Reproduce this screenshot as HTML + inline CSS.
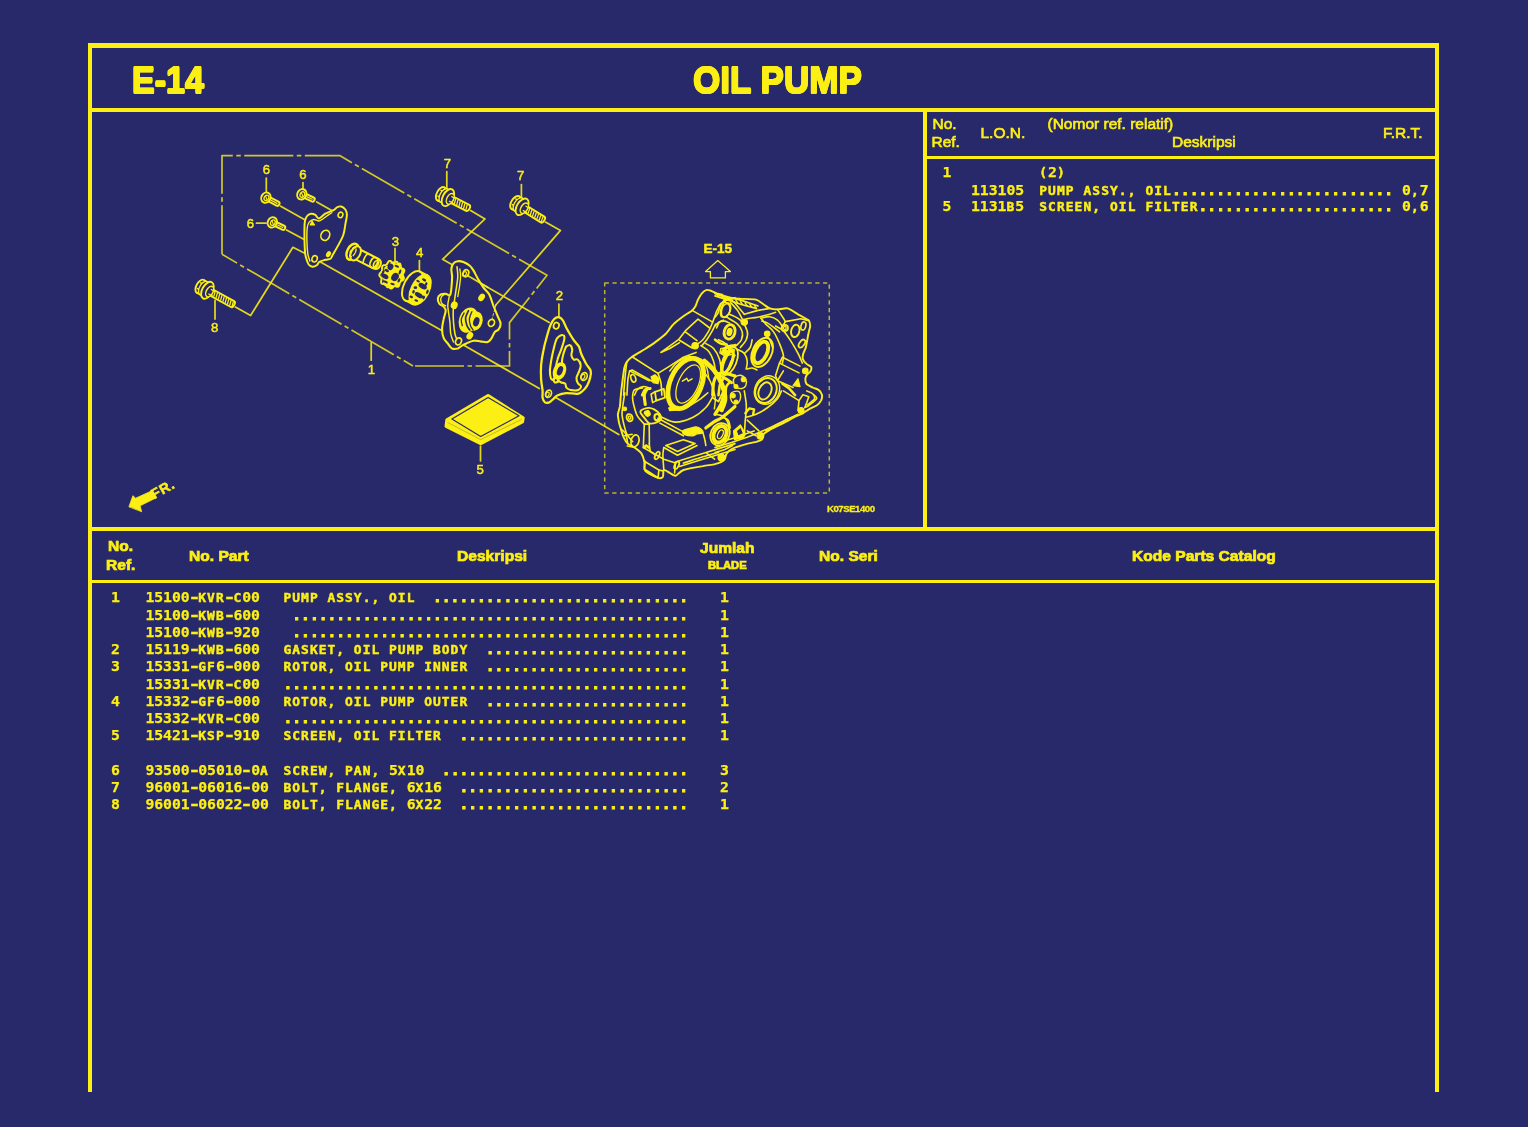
<!DOCTYPE html>
<html lang="id"><head><meta charset="utf-8"><title>E-14 OIL PUMP</title>
<style>
html,body{margin:0;padding:0;background:#28296a}
body{width:1528px;height:1127px;overflow:hidden;position:relative;background:#28296a;color:#fcef14;font-family:"Liberation Sans",sans-serif}
.ln{position:absolute;background:#fcef14}
.t{position:absolute;white-space:pre;line-height:1;}
.b{font-weight:bold}
.m{font-family:"DejaVu Sans Mono","Liberation Mono",monospace;font-weight:bold;font-size:15.6px;height:16px}
.m span{display:inline-block;vertical-align:baseline}
.d{-webkit-text-stroke:0.9px #fcef14}
.a{-webkit-text-stroke:0.45px #fcef14}
.g{-webkit-text-stroke:0.25px #fcef14}
.y{transform:scaleX(1.4)}
.h{-webkit-text-stroke:0.65px #fcef14}
.k{-webkit-text-stroke:0.7px #fcef14}
svg{position:absolute;left:0;top:0;filter:blur(0.45px)}
.t{filter:blur(0.35px)}
</style></head>
<body>
<div class="ln" style="left:87.5px;top:43px;width:4.5px;height:1049px"></div>
<div class="ln" style="left:1434.7px;top:43px;width:4.6px;height:1049px"></div>
<div class="ln" style="left:87.5px;top:43px;width:1351.8px;height:5px"></div>
<div class="ln" style="left:87.5px;top:108px;width:1351.8px;height:4px"></div>
<div class="ln" style="left:923.3px;top:108px;width:3.5px;height:423px"></div>
<div class="ln" style="left:925px;top:155.7px;width:512px;height:3.3px"></div>
<div class="ln" style="left:87.5px;top:527.2px;width:1351.8px;height:3.8px"></div>
<div class="ln" style="left:87.5px;top:579.7px;width:1351.8px;height:3.6px"></div>
<div class="t b" style="left:131.6px;top:62.6px;font-size:36px;text-shadow:0.75px 0px 0 #fcef14,-0.75px 0px 0 #fcef14,0px 0.75px 0 #fcef14,0px -0.75px 0 #fcef14,0.55px 0.55px 0 #fcef14,-0.55px 0.55px 0 #fcef14,0.55px -0.55px 0 #fcef14,-0.55px -0.55px 0 #fcef14;transform:scaleX(.945);transform-origin:0 0;">E-14</div>
<div class="t b" style="left:693.2px;top:62.6px;font-size:36px;text-shadow:0.75px 0px 0 #fcef14,-0.75px 0px 0 #fcef14,0px 0.75px 0 #fcef14,0px -0.75px 0 #fcef14,0.55px 0.55px 0 #fcef14,-0.55px 0.55px 0 #fcef14,0.55px -0.55px 0 #fcef14,-0.55px -0.55px 0 #fcef14;transform:scaleX(.974);transform-origin:0 0;">OIL PUMP</div>
<div class="t h" style="left:932.5px;top:115.8px;font-size:15.5px;">No.</div>
<div class="t h" style="left:931.5px;top:133.8px;font-size:15.5px;">Ref.</div>
<div class="t h" style="left:980.5px;top:124.8px;font-size:15.5px;">L.O.N.</div>
<div class="t h" style="left:1047.5px;top:115.8px;font-size:15.5px;">(Nomor ref. relatif)</div>
<div class="t h" style="left:1172px;top:133.8px;font-size:15.5px;">Deskripsi</div>
<div class="t h" style="left:1383px;top:124.8px;font-size:15.5px;">F.R.T.</div>
<div class="t b k" style="left:107.8px;top:539.4px;font-size:14.3px;transform:scaleX(1.09);transform-origin:0 0;">No.</div>
<div class="t b k" style="left:105.6px;top:558.2px;font-size:14.3px;transform:scaleX(1.09);transform-origin:0 0;">Ref.</div>
<div class="t b k" style="left:188.6px;top:549.2px;font-size:14.3px;transform:scaleX(1.09);transform-origin:0 0;">No. Part</div>
<div class="t b k" style="left:457.4px;top:549.2px;font-size:14.3px;transform:scaleX(1.09);transform-origin:0 0;">Deskripsi</div>
<div class="t b k" style="left:700px;top:540.6px;font-size:14.3px;transform:scaleX(1.09);transform-origin:0 0;">Jumlah</div>
<div class="t b k" style="left:707.6px;top:559.7px;font-size:10.6px;transform:scaleX(1.06);transform-origin:0 0;">BLADE</div>
<div class="t b k" style="left:819.4px;top:549.2px;font-size:14.3px;transform:scaleX(1.09);transform-origin:0 0;">No. Seri</div>
<div class="t b k" style="left:1132.4px;top:549.2px;font-size:14.3px;transform:scaleX(1.09);transform-origin:0 0;">Kode Parts Catalog</div>
<div class="t m" style="left:942.6px;top:165px"><span class="g" style="font-size:14.8px;letter-spacing:-0.055px">1</span></div>
<div class="t m" style="left:1039.2px;top:165px"><span class="a" style="font-size:12.9px;letter-spacing:1.089px">(</span><span class="g" style="font-size:14.8px;letter-spacing:-0.055px">2</span><span class="a" style="font-size:12.9px;letter-spacing:1.089px">)</span></div>
<div class="t m" style="left:971px;top:182.7px"><span class="g" style="font-size:14.8px;letter-spacing:-0.055px">113105</span></div>
<div class="t m" style="left:1039.2px;top:182.7px"><span class="a" style="font-size:12.9px;letter-spacing:1.089px">PUMP ASSY., OIL</span><span class="d" style="font-size:14.6px;letter-spacing:0.065px">.........................</span><span class="a" style="font-size:12.9px;letter-spacing:1.089px"> </span><span class="g" style="font-size:14.8px;letter-spacing:-0.055px">0</span><span class="a" style="font-size:12.9px;letter-spacing:1.089px">,</span><span class="g" style="font-size:14.8px;letter-spacing:-0.055px">7</span></div>
<div class="t m" style="left:942.6px;top:198.9px"><span class="g" style="font-size:14.8px;letter-spacing:-0.055px">5</span></div>
<div class="t m" style="left:971px;top:198.9px"><span class="g" style="font-size:14.8px;letter-spacing:-0.055px">1131</span><span class="a" style="font-size:12.9px;letter-spacing:1.089px">B</span><span class="g" style="font-size:14.8px;letter-spacing:-0.055px">5</span></div>
<div class="t m" style="left:1039.2px;top:198.9px"><span class="a" style="font-size:12.9px;letter-spacing:1.089px">SCREEN, OIL FILTER</span><span class="d" style="font-size:14.6px;letter-spacing:0.065px">......................</span><span class="a" style="font-size:12.9px;letter-spacing:1.089px"> </span><span class="g" style="font-size:14.8px;letter-spacing:-0.055px">0</span><span class="a" style="font-size:12.9px;letter-spacing:1.089px">,</span><span class="g" style="font-size:14.8px;letter-spacing:-0.055px">6</span></div>
<div class="t m" style="left:111px;top:590.3px"><span class="g" style="font-size:14.8px;letter-spacing:-0.11px">1</span></div>
<div class="t m" style="left:145.5px;top:590.3px"><span class="g" style="font-size:14.8px;letter-spacing:-0.11px">15100</span><span class="g y" style="font-size:14.8px;letter-spacing:-0.11px">-</span><span class="a" style="font-size:12.9px;letter-spacing:1.034px">KVR</span><span class="g y" style="font-size:14.8px;letter-spacing:-0.11px">-</span><span class="a" style="font-size:12.9px;letter-spacing:1.034px">C</span><span class="g" style="font-size:14.8px;letter-spacing:-0.11px">00</span></div>
<div class="t m" style="left:283.5px;top:590.3px"><span class="a" style="font-size:12.9px;letter-spacing:1.034px">PUMP ASSY., OIL  </span><span class="d" style="font-size:14.6px;letter-spacing:0.01px">.............................</span></div>
<div class="t m" style="left:720px;top:590.3px"><span class="g" style="font-size:14.8px;letter-spacing:-0.11px">1</span></div>
<div class="t m" style="left:145.5px;top:607.55px"><span class="g" style="font-size:14.8px;letter-spacing:-0.11px">15100</span><span class="g y" style="font-size:14.8px;letter-spacing:-0.11px">-</span><span class="a" style="font-size:12.9px;letter-spacing:1.034px">KWB</span><span class="g y" style="font-size:14.8px;letter-spacing:-0.11px">-</span><span class="g" style="font-size:14.8px;letter-spacing:-0.11px">600</span></div>
<div class="t m" style="left:283.5px;top:607.55px"><span class="a" style="font-size:12.9px;letter-spacing:1.034px"> </span><span class="d" style="font-size:14.6px;letter-spacing:0.01px">.............................................</span></div>
<div class="t m" style="left:720px;top:607.55px"><span class="g" style="font-size:14.8px;letter-spacing:-0.11px">1</span></div>
<div class="t m" style="left:145.5px;top:624.8px"><span class="g" style="font-size:14.8px;letter-spacing:-0.11px">15100</span><span class="g y" style="font-size:14.8px;letter-spacing:-0.11px">-</span><span class="a" style="font-size:12.9px;letter-spacing:1.034px">KWB</span><span class="g y" style="font-size:14.8px;letter-spacing:-0.11px">-</span><span class="g" style="font-size:14.8px;letter-spacing:-0.11px">920</span></div>
<div class="t m" style="left:283.5px;top:624.8px"><span class="a" style="font-size:12.9px;letter-spacing:1.034px"> </span><span class="d" style="font-size:14.6px;letter-spacing:0.01px">.............................................</span></div>
<div class="t m" style="left:720px;top:624.8px"><span class="g" style="font-size:14.8px;letter-spacing:-0.11px">1</span></div>
<div class="t m" style="left:111px;top:642.05px"><span class="g" style="font-size:14.8px;letter-spacing:-0.11px">2</span></div>
<div class="t m" style="left:145.5px;top:642.05px"><span class="g" style="font-size:14.8px;letter-spacing:-0.11px">15119</span><span class="g y" style="font-size:14.8px;letter-spacing:-0.11px">-</span><span class="a" style="font-size:12.9px;letter-spacing:1.034px">KWB</span><span class="g y" style="font-size:14.8px;letter-spacing:-0.11px">-</span><span class="g" style="font-size:14.8px;letter-spacing:-0.11px">600</span></div>
<div class="t m" style="left:283.5px;top:642.05px"><span class="a" style="font-size:12.9px;letter-spacing:1.034px">GASKET, OIL PUMP BODY  </span><span class="d" style="font-size:14.6px;letter-spacing:0.01px">.......................</span></div>
<div class="t m" style="left:720px;top:642.05px"><span class="g" style="font-size:14.8px;letter-spacing:-0.11px">1</span></div>
<div class="t m" style="left:111px;top:659.3px"><span class="g" style="font-size:14.8px;letter-spacing:-0.11px">3</span></div>
<div class="t m" style="left:145.5px;top:659.3px"><span class="g" style="font-size:14.8px;letter-spacing:-0.11px">15331</span><span class="g y" style="font-size:14.8px;letter-spacing:-0.11px">-</span><span class="a" style="font-size:12.9px;letter-spacing:1.034px">GF</span><span class="g" style="font-size:14.8px;letter-spacing:-0.11px">6</span><span class="g y" style="font-size:14.8px;letter-spacing:-0.11px">-</span><span class="g" style="font-size:14.8px;letter-spacing:-0.11px">000</span></div>
<div class="t m" style="left:283.5px;top:659.3px"><span class="a" style="font-size:12.9px;letter-spacing:1.034px">ROTOR, OIL PUMP INNER  </span><span class="d" style="font-size:14.6px;letter-spacing:0.01px">.......................</span></div>
<div class="t m" style="left:720px;top:659.3px"><span class="g" style="font-size:14.8px;letter-spacing:-0.11px">1</span></div>
<div class="t m" style="left:145.5px;top:676.55px"><span class="g" style="font-size:14.8px;letter-spacing:-0.11px">15331</span><span class="g y" style="font-size:14.8px;letter-spacing:-0.11px">-</span><span class="a" style="font-size:12.9px;letter-spacing:1.034px">KVR</span><span class="g y" style="font-size:14.8px;letter-spacing:-0.11px">-</span><span class="a" style="font-size:12.9px;letter-spacing:1.034px">C</span><span class="g" style="font-size:14.8px;letter-spacing:-0.11px">00</span></div>
<div class="t m" style="left:283.5px;top:676.55px"><span class="d" style="font-size:14.6px;letter-spacing:0.01px">..............................................</span></div>
<div class="t m" style="left:720px;top:676.55px"><span class="g" style="font-size:14.8px;letter-spacing:-0.11px">1</span></div>
<div class="t m" style="left:111px;top:693.8px"><span class="g" style="font-size:14.8px;letter-spacing:-0.11px">4</span></div>
<div class="t m" style="left:145.5px;top:693.8px"><span class="g" style="font-size:14.8px;letter-spacing:-0.11px">15332</span><span class="g y" style="font-size:14.8px;letter-spacing:-0.11px">-</span><span class="a" style="font-size:12.9px;letter-spacing:1.034px">GF</span><span class="g" style="font-size:14.8px;letter-spacing:-0.11px">6</span><span class="g y" style="font-size:14.8px;letter-spacing:-0.11px">-</span><span class="g" style="font-size:14.8px;letter-spacing:-0.11px">000</span></div>
<div class="t m" style="left:283.5px;top:693.8px"><span class="a" style="font-size:12.9px;letter-spacing:1.034px">ROTOR, OIL PUMP OUTER  </span><span class="d" style="font-size:14.6px;letter-spacing:0.01px">.......................</span></div>
<div class="t m" style="left:720px;top:693.8px"><span class="g" style="font-size:14.8px;letter-spacing:-0.11px">1</span></div>
<div class="t m" style="left:145.5px;top:711.05px"><span class="g" style="font-size:14.8px;letter-spacing:-0.11px">15332</span><span class="g y" style="font-size:14.8px;letter-spacing:-0.11px">-</span><span class="a" style="font-size:12.9px;letter-spacing:1.034px">KVR</span><span class="g y" style="font-size:14.8px;letter-spacing:-0.11px">-</span><span class="a" style="font-size:12.9px;letter-spacing:1.034px">C</span><span class="g" style="font-size:14.8px;letter-spacing:-0.11px">00</span></div>
<div class="t m" style="left:283.5px;top:711.05px"><span class="d" style="font-size:14.6px;letter-spacing:0.01px">..............................................</span></div>
<div class="t m" style="left:720px;top:711.05px"><span class="g" style="font-size:14.8px;letter-spacing:-0.11px">1</span></div>
<div class="t m" style="left:111px;top:728.3px"><span class="g" style="font-size:14.8px;letter-spacing:-0.11px">5</span></div>
<div class="t m" style="left:145.5px;top:728.3px"><span class="g" style="font-size:14.8px;letter-spacing:-0.11px">15421</span><span class="g y" style="font-size:14.8px;letter-spacing:-0.11px">-</span><span class="a" style="font-size:12.9px;letter-spacing:1.034px">KSP</span><span class="g y" style="font-size:14.8px;letter-spacing:-0.11px">-</span><span class="g" style="font-size:14.8px;letter-spacing:-0.11px">910</span></div>
<div class="t m" style="left:283.5px;top:728.3px"><span class="a" style="font-size:12.9px;letter-spacing:1.034px">SCREEN, OIL FILTER  </span><span class="d" style="font-size:14.6px;letter-spacing:0.01px">..........................</span></div>
<div class="t m" style="left:720px;top:728.3px"><span class="g" style="font-size:14.8px;letter-spacing:-0.11px">1</span></div>
<div class="t m" style="left:111px;top:762.8px"><span class="g" style="font-size:14.8px;letter-spacing:-0.11px">6</span></div>
<div class="t m" style="left:145.5px;top:762.8px"><span class="g" style="font-size:14.8px;letter-spacing:-0.11px">93500</span><span class="g y" style="font-size:14.8px;letter-spacing:-0.11px">-</span><span class="g" style="font-size:14.8px;letter-spacing:-0.11px">05010</span><span class="g y" style="font-size:14.8px;letter-spacing:-0.11px">-</span><span class="g" style="font-size:14.8px;letter-spacing:-0.11px">0</span><span class="a" style="font-size:12.9px;letter-spacing:1.034px">A</span></div>
<div class="t m" style="left:283.5px;top:762.8px"><span class="a" style="font-size:12.9px;letter-spacing:1.034px">SCREW, PAN, </span><span class="g" style="font-size:14.8px;letter-spacing:-0.11px">5</span><span class="a" style="font-size:12.9px;letter-spacing:1.034px">X</span><span class="g" style="font-size:14.8px;letter-spacing:-0.11px">10</span><span class="a" style="font-size:12.9px;letter-spacing:1.034px">  </span><span class="d" style="font-size:14.6px;letter-spacing:0.01px">............................</span></div>
<div class="t m" style="left:720px;top:762.8px"><span class="g" style="font-size:14.8px;letter-spacing:-0.11px">3</span></div>
<div class="t m" style="left:111px;top:780.05px"><span class="g" style="font-size:14.8px;letter-spacing:-0.11px">7</span></div>
<div class="t m" style="left:145.5px;top:780.05px"><span class="g" style="font-size:14.8px;letter-spacing:-0.11px">96001</span><span class="g y" style="font-size:14.8px;letter-spacing:-0.11px">-</span><span class="g" style="font-size:14.8px;letter-spacing:-0.11px">06016</span><span class="g y" style="font-size:14.8px;letter-spacing:-0.11px">-</span><span class="g" style="font-size:14.8px;letter-spacing:-0.11px">00</span></div>
<div class="t m" style="left:283.5px;top:780.05px"><span class="a" style="font-size:12.9px;letter-spacing:1.034px">BOLT, FLANGE, </span><span class="g" style="font-size:14.8px;letter-spacing:-0.11px">6</span><span class="a" style="font-size:12.9px;letter-spacing:1.034px">X</span><span class="g" style="font-size:14.8px;letter-spacing:-0.11px">16</span><span class="a" style="font-size:12.9px;letter-spacing:1.034px">  </span><span class="d" style="font-size:14.6px;letter-spacing:0.01px">..........................</span></div>
<div class="t m" style="left:720px;top:780.05px"><span class="g" style="font-size:14.8px;letter-spacing:-0.11px">2</span></div>
<div class="t m" style="left:111px;top:797.3px"><span class="g" style="font-size:14.8px;letter-spacing:-0.11px">8</span></div>
<div class="t m" style="left:145.5px;top:797.3px"><span class="g" style="font-size:14.8px;letter-spacing:-0.11px">96001</span><span class="g y" style="font-size:14.8px;letter-spacing:-0.11px">-</span><span class="g" style="font-size:14.8px;letter-spacing:-0.11px">06022</span><span class="g y" style="font-size:14.8px;letter-spacing:-0.11px">-</span><span class="g" style="font-size:14.8px;letter-spacing:-0.11px">00</span></div>
<div class="t m" style="left:283.5px;top:797.3px"><span class="a" style="font-size:12.9px;letter-spacing:1.034px">BOLT, FLANGE, </span><span class="g" style="font-size:14.8px;letter-spacing:-0.11px">6</span><span class="a" style="font-size:12.9px;letter-spacing:1.034px">X</span><span class="g" style="font-size:14.8px;letter-spacing:-0.11px">22</span><span class="a" style="font-size:12.9px;letter-spacing:1.034px">  </span><span class="d" style="font-size:14.6px;letter-spacing:0.01px">..........................</span></div>
<div class="t m" style="left:720px;top:797.3px"><span class="g" style="font-size:14.8px;letter-spacing:-0.11px">1</span></div>
<svg width="1528" height="1127" viewBox="0 0 1528 1127" fill="none" stroke="#fcef14" stroke-width="1.3" stroke-linecap="round" stroke-linejoin="round" font-family="Liberation Sans, sans-serif" font-weight="bold">
<g stroke-width="1.7" stroke-linecap="butt" opacity="0.8">
<path d="M222,254.3 V155.6 H339.7 L547,275.3 L509.5,322.6 V366 H413" stroke-dasharray="49 3.5 4.5 3.5"/>
<path d="M222,254.3 L413,366" stroke-dasharray="49 3.5 4.5 3.5" stroke-dashoffset="31.5"/>
</g>
<g stroke-width="1.75" opacity="0.88">
<path d="M266.3,178.2 L266.3,191.8"/>
<path d="M303,182.5 L303,188"/>
<path d="M256.5,223.2 L266,223.2"/>
<path d="M446.8,171.7 L446.8,187.5"/>
<path d="M521.4,184.6 L521.4,199"/>
<path d="M395,248.4 L395,261.2"/>
<path d="M419.4,260.5 L419.4,271.8"/>
<path d="M215,300.4 L215,319.1"/>
<path d="M371.2,342.9 L371.2,360.2"/>
<path d="M558.9,304.1 L558.9,316.9"/>
<path d="M480.5,446 L480.5,460.9"/>
<path d="M280.7,206.2 L305.2,219.9"/>
<path d="M316.7,201.9 L331.8,210.6"/>
<path d="M286.5,230 L305.2,240.1"/>
<path d="M235.4,306.9 L250.6,315.5 L292.9,247.3 L305.2,253.5"/>
<path d="M470.6,210.6 L485,218.9 L442.6,259.3 L453.5,265.4"/>
<path d="M545.4,222.1 L560.5,230.4 L496,304.8"/>
<path d="M496,304.8 L491.5,318" stroke-dasharray="2.5 2" stroke-width="0.9"/>
<path d="M319.6,261.5 L442.1,330.7 M463.4,344.9 L539.3,388.6 M554.9,397.1 L618.8,434.6"/>
<path d="M467,275.4 L549.2,322.6"/>
</g>
<rect x="604.7" y="283" width="224.6" height="210" stroke-width="1.5" stroke-dasharray="4.2 3.6" stroke-linecap="butt" opacity="0.7"/>
<path d="M717.8,260.6 L730.4,271.6 H725.4 V277.9 H710.4 V271.6 H705.6 Z" stroke-width="1.3"/>
<text x="266.3" y="174.2" font-size="13.2" font-weight="normal" text-anchor="middle" fill="#fcef14" stroke="#fcef14" stroke-width="0.45">6</text>
<text x="303" y="179" font-size="13.2" font-weight="normal" text-anchor="middle" fill="#fcef14" stroke="#fcef14" stroke-width="0.45">6</text>
<text x="250.5" y="227.9" font-size="13.2" font-weight="normal" text-anchor="middle" fill="#fcef14" stroke="#fcef14" stroke-width="0.45">6</text>
<text x="447.3" y="167.8" font-size="13.2" font-weight="normal" text-anchor="middle" fill="#fcef14" stroke="#fcef14" stroke-width="0.45">7</text>
<text x="520.7" y="180" font-size="13.2" font-weight="normal" text-anchor="middle" fill="#fcef14" stroke="#fcef14" stroke-width="0.45">7</text>
<text x="395.3" y="246" font-size="13.2" font-weight="normal" text-anchor="middle" fill="#fcef14" stroke="#fcef14" stroke-width="0.45">3</text>
<text x="419.7" y="256.6" font-size="13.2" font-weight="normal" text-anchor="middle" fill="#fcef14" stroke="#fcef14" stroke-width="0.45">4</text>
<text x="214.6" y="331.7" font-size="13.2" font-weight="normal" text-anchor="middle" fill="#fcef14" stroke="#fcef14" stroke-width="0.45">8</text>
<text x="371.5" y="373.5" font-size="13.2" font-weight="normal" text-anchor="middle" fill="#fcef14" stroke="#fcef14" stroke-width="0.45">1</text>
<text x="559.5" y="300.3" font-size="13.2" font-weight="normal" text-anchor="middle" fill="#fcef14" stroke="#fcef14" stroke-width="0.45">2</text>
<text x="480.1" y="474.1" font-size="13.2" font-weight="normal" text-anchor="middle" fill="#fcef14" stroke="#fcef14" stroke-width="0.45">5</text>
<text x="717.8" y="253.4" font-size="13.5" text-anchor="middle" fill="#fcef14" stroke="#fcef14" stroke-width="0.5">E-15</text>
<text x="850.8" y="512.4" font-size="9.6" text-anchor="middle" fill="#fcef14" stroke="#fcef14" stroke-width="0.3" letter-spacing="-0.45">K07SE1400</text>
<path d="M129,506.5 L132.9,495.7 L135.6,498.2 L151.9,490.8 L155.8,498 L140.1,505.8 L141.6,511.4 Z" fill="#fcef14" stroke-width="0.8"/>
<text transform="translate(154.2,499.3) rotate(-29)" font-size="14" letter-spacing="0.9" fill="#fcef14" stroke="#fcef14" stroke-width="0.5">FR.</text>
<g transform="translate(447.9,197.6) rotate(27.4)" stroke-width="1.9">
<ellipse cx="-8" cy="0" rx="4.0" ry="7.4" fill="#28296a"/>
<path d="M-8,-7.4 L-3,-7.4 M-8,7.4 L-3,7.4 M-9.5,-3.3 L-4,-3.3 M-9.5,3.3 L-4,3.3" stroke-width="1.5"/>
<ellipse cx="-4.5" cy="0" rx="4.0" ry="7.4" fill="#28296a" stroke-width="1.4"/>
<path d="M2,-3.4 H22.3 Q24.3,-3.4 24.3,0 Q24.3,3.4 22.3,3.4 H2 Z" fill="#28296a"/>
<path d="M7.5,-2.2 L8.5,2.2 M10.1,-2.2 L11.1,2.2 M12.7,-2.2 L13.7,2.2 M15.3,-2.2 L16.3,2.2 M17.9,-2.2 L18.9,2.2 M20.5,-2.2 L21.5,2.2 " stroke-width="1.3"/>
<ellipse cx="0" cy="0" rx="5.2" ry="9.2" fill="#28296a"/>
<ellipse cx="2.6" cy="0" rx="3.3" ry="5.7" fill="#28296a" stroke-width="1.5"/>
<path d="M3,-2.6 H7 M3,2.6 H7" stroke-width="1.3"/>
</g>
<g transform="translate(522.1,206.8) rotate(31.9)" stroke-width="1.9">
<ellipse cx="-8" cy="0" rx="4.0" ry="7.4" fill="#28296a"/>
<path d="M-8,-7.4 L-3,-7.4 M-8,7.4 L-3,7.4 M-9.5,-3.3 L-4,-3.3 M-9.5,3.3 L-4,3.3" stroke-width="1.5"/>
<ellipse cx="-4.5" cy="0" rx="4.0" ry="7.4" fill="#28296a" stroke-width="1.4"/>
<path d="M2,-3.4 H24.1 Q26.1,-3.4 26.1,0 Q26.1,3.4 24.1,3.4 H2 Z" fill="#28296a"/>
<path d="M7.5,-2.2 L8.5,2.2 M10.1,-2.2 L11.1,2.2 M12.7,-2.2 L13.7,2.2 M15.3,-2.2 L16.3,2.2 M17.9,-2.2 L18.9,2.2 M20.5,-2.2 L21.5,2.2 M23.1,-2.2 L24.1,2.2 " stroke-width="1.3"/>
<ellipse cx="0" cy="0" rx="5.2" ry="9.2" fill="#28296a"/>
<ellipse cx="2.6" cy="0" rx="3.3" ry="5.7" fill="#28296a" stroke-width="1.5"/>
<path d="M3,-2.6 H7 M3,2.6 H7" stroke-width="1.3"/>
</g>
<g transform="translate(207.4,290.3) rotate(28.7)" stroke-width="1.9">
<ellipse cx="-8" cy="0" rx="4.0" ry="7.4" fill="#28296a"/>
<path d="M-8,-7.4 L-3,-7.4 M-8,7.4 L-3,7.4 M-9.5,-3.3 L-4,-3.3 M-9.5,3.3 L-4,3.3" stroke-width="1.5"/>
<ellipse cx="-4.5" cy="0" rx="4.0" ry="7.4" fill="#28296a" stroke-width="1.4"/>
<path d="M2,-3.4 H28.6 Q30.6,-3.4 30.6,0 Q30.6,3.4 28.6,3.4 H2 Z" fill="#28296a"/>
<path d="M7.5,-2.2 L8.5,2.2 M10.1,-2.2 L11.1,2.2 M12.7,-2.2 L13.7,2.2 M15.3,-2.2 L16.3,2.2 M17.9,-2.2 L18.9,2.2 M20.5,-2.2 L21.5,2.2 M23.1,-2.2 L24.1,2.2 M25.7,-2.2 L26.7,2.2 M28.3,-2.2 L29.3,2.2 " stroke-width="1.3"/>
<ellipse cx="0" cy="0" rx="5.2" ry="9.2" fill="#28296a"/>
<ellipse cx="2.6" cy="0" rx="3.3" ry="5.7" fill="#28296a" stroke-width="1.5"/>
<path d="M3,-2.6 H7 M3,2.6 H7" stroke-width="1.3"/>
</g>
<g transform="translate(265.9,197.6) rotate(27.4)" stroke-width="2.0">
<path d="M2,-2.2 H13.0 Q15.0,-2.2 15.0,0 Q15.0,2.2 13.0,2.2 H2 Z" fill="#28296a"/>
<path d="M6,0 H12.5" stroke-width="1.2"/>
<ellipse cx="0" cy="0" rx="4.5" ry="5.3" fill="#28296a"/>
<ellipse cx="0.6" cy="0" rx="2.2" ry="2.9" stroke-width="1.3"/>
<path d="M-1.2,-1.5 L2,1.5" stroke-width="1.1"/>
</g>
<g transform="translate(301.8,194.3) rotate(25.5)" stroke-width="2.0">
<path d="M2,-2.2 H12.0 Q14.0,-2.2 14.0,0 Q14.0,2.2 12.0,2.2 H2 Z" fill="#28296a"/>
<path d="M6,0 H11.5" stroke-width="1.2"/>
<ellipse cx="0" cy="0" rx="4.5" ry="5.3" fill="#28296a"/>
<ellipse cx="0.6" cy="0" rx="2.2" ry="2.9" stroke-width="1.3"/>
<path d="M-1.2,-1.5 L2,1.5" stroke-width="1.1"/>
</g>
<g transform="translate(272.3,222.4) rotate(26.0)" stroke-width="2.0">
<path d="M2,-2.2 H12.1 Q14.1,-2.2 14.1,0 Q14.1,2.2 12.1,2.2 H2 Z" fill="#28296a"/>
<path d="M6,0 H11.6" stroke-width="1.2"/>
<ellipse cx="0" cy="0" rx="4.5" ry="5.3" fill="#28296a"/>
<ellipse cx="0.6" cy="0" rx="2.2" ry="2.9" stroke-width="1.3"/>
<path d="M-1.2,-1.5 L2,1.5" stroke-width="1.1"/>
</g>
<path d="M305.2,219.9 C305.7,218.1 306.4,216.6 307.4,215.6 C308.3,214.6 309.6,213.8 311.0,213.7 C312.3,213.6 314.0,214.1 315.3,214.9 C316.6,215.7 317.2,218.7 318.9,218.5 C320.5,218.3 322.8,215.2 325.3,213.7 C327.9,212.3 332.1,210.9 334.0,209.8 C335.9,208.8 335.7,207.9 336.9,207.4 C338.1,206.8 339.7,206.1 341.2,206.5 C342.6,206.9 344.5,208.4 345.5,209.8 C346.5,211.2 346.9,212.6 346.9,214.9 C346.9,217.2 346.1,220.2 345.5,223.5 C344.9,226.9 344.5,231.4 343.3,235.0 C342.1,238.6 340.1,241.8 338.3,245.1 C336.5,248.5 333.9,252.9 332.5,255.2 C331.2,257.5 331.6,258.0 330.4,258.8 C329.2,259.6 327.1,259.3 325.3,259.8 C323.5,260.3 321.0,260.8 319.6,261.7 C318.1,262.6 317.9,264.4 316.7,265.3 C315.5,266.1 313.7,266.8 312.4,266.7 C311.1,266.6 309.8,265.7 308.8,264.6 C307.8,263.4 307.2,261.3 306.6,259.5 C306.0,257.7 305.6,256.9 305.2,253.8 C304.8,250.6 304.6,245.4 304.5,240.8 C304.4,236.2 304.4,229.9 304.5,226.4 C304.6,222.9 304.7,221.7 305.2,219.9Z" fill="#28296a" stroke-width="1.95"/>
<path d="M331.8,212.7 C331.0,213.3 328.8,214.7 326.8,216.0 C324.7,217.4 321.7,220.3 319.6,220.9 C317.4,221.5 315.6,219.3 313.8,219.5 C312.1,219.7 310.3,220.7 309.2,222.1 C308.1,223.5 307.6,224.7 307.2,227.8 C306.8,231.0 306.8,236.5 306.9,240.8 C307.0,245.1 307.3,250.4 307.8,253.8 C308.3,257.1 309.5,259.8 309.8,261.0" stroke-width="1.43"/>
<ellipse cx="325.3" cy="235.3" rx="4.3" ry="5.2" transform="rotate(25 325.3 235.3)" stroke-width="1.69"/>
<ellipse cx="340.5" cy="214.9" rx="2.3" ry="2.8" transform="rotate(20 340.5 214.9)" stroke-width="1.56"/>
<ellipse cx="314.6" cy="258.8" rx="2.6" ry="3.2" transform="rotate(20 314.6 258.8)" stroke-width="1.56"/>
<ellipse cx="328.5" cy="254.2" rx="1.6" ry="2.6" transform="rotate(30 328.5 254.2)" fill="#fcef14" stroke-width="1.3"/>
<path d="M310.2,225.0 L312.1,220.9 L314.6,225.0Z" fill="#fcef14" stroke-width="1.04"/>
<g transform="translate(353.8,252.4) rotate(27)">
<path d="M2,-5.4 H24 Q29.5,-5.4 29.5,0 Q29.5,5.4 24,5.4 H2 Z" fill="#28296a" stroke-width="2"/>
<ellipse cx="22.5" cy="0" rx="3.4" ry="5.4" stroke-width="1.8"/>
<ellipse cx="25" cy="0.3" rx="2.2" ry="3.4" stroke-width="1.6"/>
<path d="M13,-5.2 Q11,0 13,5.2" stroke-width="1.6"/>
<ellipse cx="-1.5" cy="0" rx="5.2" ry="8.6" fill="#28296a" stroke-width="2.4"/>
<ellipse cx="2" cy="0" rx="4.6" ry="7.6" fill="#28296a" stroke-width="2"/>
<ellipse cx="-1" cy="0" rx="2.4" ry="5.2" stroke-width="1.4" stroke-dasharray="3 2"/>
</g>
<path d="M400.8,277.7 C400.7,278.0 400.4,278.4 400.1,278.7 C399.8,278.9 399.4,279.2 399.1,279.4 C398.7,279.6 398.3,279.7 398.0,279.9 C397.7,280.1 397.5,280.3 397.3,280.6 C397.1,280.8 397.0,281.2 396.8,281.5 C396.7,281.9 396.7,282.4 396.5,282.8 C396.4,283.3 396.3,283.8 396.1,284.1 C395.9,284.5 395.7,284.9 395.4,285.1 C395.1,285.3 394.7,285.4 394.4,285.4 C394.0,285.4 393.7,285.3 393.3,285.2 C393.0,285.1 392.6,284.9 392.3,284.9 C392.0,284.8 391.7,284.8 391.4,284.8 C391.2,284.9 390.9,285.1 390.6,285.3 C390.3,285.6 390.0,286.0 389.7,286.2 C389.4,286.5 389.1,286.9 388.7,287.1 C388.4,287.2 388.0,287.3 387.7,287.3 C387.4,287.3 387.1,287.1 386.9,286.8 C386.6,286.6 386.4,286.1 386.3,285.8 C386.1,285.4 386.0,285.0 385.8,284.7 C385.6,284.4 385.4,284.2 385.2,284.0 C385.0,283.9 384.7,283.8 384.4,283.8 C384.1,283.8 383.7,283.9 383.3,283.9 C382.9,283.9 382.5,283.9 382.2,283.8 C381.9,283.7 381.6,283.5 381.4,283.3 C381.2,283.0 381.1,282.6 381.1,282.2 C381.1,281.8 381.2,281.3 381.2,280.8 C381.3,280.4 381.4,279.9 381.5,279.5 C381.5,279.1 381.6,278.8 381.5,278.5 C381.4,278.2 381.2,277.9 381.0,277.7 C380.8,277.4 380.5,277.2 380.3,276.9 C380.0,276.6 379.7,276.3 379.6,276.0 C379.4,275.6 379.3,275.2 379.3,274.9 C379.4,274.5 379.5,274.1 379.7,273.7 C379.9,273.3 380.3,273.0 380.6,272.6 C380.8,272.3 381.2,272.0 381.4,271.7 C381.7,271.4 381.9,271.2 382.0,270.8 C382.1,270.5 382.1,270.2 382.2,269.8 C382.2,269.4 382.1,269.0 382.1,268.5 C382.0,268.1 382.0,267.6 382.1,267.2 C382.2,266.8 382.3,266.3 382.5,266.0 C382.8,265.7 383.1,265.5 383.4,265.3 C383.8,265.2 384.2,265.1 384.6,265.1 C385.0,265.0 385.3,265.0 385.7,265.0 C386.0,264.9 386.3,264.8 386.5,264.6 C386.8,264.4 387.0,264.2 387.2,263.8 C387.4,263.5 387.6,263.1 387.8,262.7 C388.1,262.3 388.3,261.8 388.6,261.5 C388.9,261.2 389.2,261.0 389.5,260.9 C389.8,260.8 390.2,260.9 390.5,261.0 C390.8,261.1 391.1,261.4 391.4,261.6 C391.7,261.9 391.9,262.2 392.2,262.4 C392.4,262.6 392.7,262.8 392.9,262.8 C393.2,262.8 393.5,262.7 393.8,262.6 C394.1,262.5 394.5,262.3 394.9,262.1 C395.2,262.0 395.7,261.8 396.0,261.7 C396.4,261.7 396.7,261.7 397.0,261.9 C397.2,262.0 397.4,262.4 397.6,262.7 C397.7,263.1 397.8,263.6 397.8,264.0 C397.9,264.4 397.9,264.9 397.9,265.3 C398.0,265.6 398.1,265.9 398.2,266.2 C398.4,266.4 398.6,266.5 398.9,266.7 C399.2,266.9 399.6,266.9 399.9,267.1 C400.2,267.2 400.6,267.4 400.9,267.6 C401.1,267.9 401.3,268.2 401.4,268.5 C401.5,268.9 401.5,269.3 401.4,269.7 C401.3,270.1 401.0,270.6 400.9,271.0 C400.7,271.4 400.4,271.8 400.2,272.2 C400.1,272.5 400.0,272.8 399.9,273.2 C399.9,273.5 400.0,273.8 400.1,274.2 C400.2,274.5 400.4,274.9 400.6,275.3 C400.7,275.6 400.9,276.1 400.9,276.5 C401.0,276.9 400.9,277.3 400.8,277.7Z" fill="#28296a" stroke-width="1.95"/>
<path d="M403.8,279.2 C403.7,279.5 403.4,279.9 403.1,280.1 C402.8,280.4 402.4,280.6 402.1,280.8 C401.7,281.0 401.3,281.2 401.0,281.4 C400.7,281.6 400.5,281.7 400.3,282.0 C400.1,282.3 400.0,282.6 399.9,283.0 C399.7,283.3 399.7,283.8 399.6,284.2 C399.5,284.7 399.4,285.2 399.2,285.5 C399.0,285.9 398.7,286.3 398.4,286.5 C398.2,286.7 397.8,286.8 397.4,286.8 C397.1,286.8 396.7,286.7 396.4,286.6 C396.0,286.5 395.7,286.3 395.4,286.2 C395.0,286.2 394.8,286.1 394.5,286.2 C394.2,286.3 394.0,286.5 393.7,286.7 C393.4,286.9 393.1,287.3 392.8,287.6 C392.5,287.8 392.1,288.2 391.8,288.4 C391.5,288.5 391.1,288.6 390.8,288.6 C390.5,288.6 390.2,288.4 389.9,288.1 C389.7,287.9 389.5,287.4 389.3,287.1 C389.1,286.8 389.0,286.3 388.8,286.0 C388.7,285.7 388.5,285.5 388.3,285.3 C388.0,285.2 387.8,285.2 387.5,285.2 C387.1,285.1 386.7,285.2 386.4,285.2 C386.0,285.2 385.6,285.2 385.3,285.1 C384.9,285.0 384.6,284.9 384.4,284.6 C384.3,284.3 384.2,283.9 384.1,283.5 C384.1,283.1 384.2,282.6 384.3,282.2 C384.3,281.7 384.5,281.3 384.5,280.9 C384.6,280.5 384.6,280.2 384.5,279.9 C384.5,279.6 384.3,279.3 384.1,279.1 C383.9,278.8 383.6,278.6 383.3,278.3 C383.1,278.0 382.8,277.7 382.6,277.4 C382.4,277.0 382.3,276.7 382.4,276.3 C382.4,275.9 382.5,275.5 382.7,275.1 C382.9,274.8 383.3,274.4 383.6,274.1 C383.9,273.8 384.2,273.5 384.5,273.2 C384.7,272.9 384.9,272.6 385.0,272.3 C385.1,272.0 385.1,271.7 385.1,271.3 C385.2,270.9 385.1,270.5 385.0,270.1 C385.0,269.6 385.0,269.1 385.1,268.7 C385.2,268.3 385.3,267.9 385.5,267.6 C385.7,267.3 386.1,267.1 386.4,266.9 C386.8,266.8 387.2,266.7 387.5,266.7 C387.9,266.6 388.3,266.6 388.6,266.6 C389.0,266.5 389.2,266.4 389.5,266.2 C389.7,266.1 389.9,265.8 390.2,265.5 C390.4,265.1 390.5,264.7 390.8,264.3 C391.0,263.9 391.2,263.5 391.5,263.2 C391.8,262.9 392.1,262.7 392.4,262.6 C392.8,262.5 393.1,262.6 393.4,262.7 C393.7,262.8 394.1,263.1 394.3,263.3 C394.6,263.6 394.9,263.9 395.1,264.1 C395.4,264.3 395.6,264.4 395.9,264.5 C396.2,264.5 396.4,264.4 396.8,264.3 C397.1,264.2 397.4,263.9 397.8,263.8 C398.2,263.6 398.6,263.4 398.9,263.4 C399.3,263.4 399.6,263.4 399.9,263.6 C400.2,263.8 400.4,264.1 400.5,264.4 C400.7,264.8 400.7,265.2 400.8,265.7 C400.8,266.1 400.8,266.6 400.9,266.9 C401.0,267.3 401.0,267.6 401.2,267.8 C401.3,268.1 401.6,268.2 401.9,268.3 C402.1,268.5 402.5,268.6 402.9,268.7 C403.2,268.9 403.6,269.0 403.8,269.3 C404.1,269.5 404.3,269.8 404.4,270.1 C404.5,270.5 404.4,270.9 404.3,271.3 C404.2,271.7 404.0,272.2 403.8,272.6 C403.6,273.0 403.4,273.4 403.2,273.7 C403.1,274.1 402.9,274.4 402.9,274.7 C402.9,275.1 403.0,275.4 403.1,275.7 C403.2,276.1 403.4,276.4 403.6,276.8 C403.7,277.2 403.9,277.6 403.9,278.0 C404.0,278.4 403.9,278.8 403.8,279.2Z" fill="#fcef14" stroke-width="1.82"/>
<ellipse cx="390.5" cy="266.8" rx="2.9" ry="3.3349999999999995" transform="rotate(20 390.5 266.8)" fill="#28296a" stroke="none"/>
<ellipse cx="384.9" cy="276.3" rx="3.77" ry="2.32" transform="rotate(30 384.9 276.3)" fill="#28296a" stroke="none"/>
<ellipse cx="395.0" cy="277.0" rx="3.48" ry="4.35" transform="rotate(35 395.0 277.0)" fill="#28296a" stroke="none"/>
<ellipse cx="386.8" cy="270.5" rx="2.32" ry="1.305" transform="rotate(30 386.8 270.5)" fill="#28296a" stroke="none"/>
<ellipse cx="385.4" cy="281.8" rx="2.61" ry="1.16" transform="rotate(25 385.4 281.8)" fill="#28296a" stroke="none"/>
<ellipse cx="396.8" cy="266.2" rx="2.32" ry="1.16" transform="rotate(25 396.8 266.2)" fill="#28296a" stroke="none"/>
<ellipse cx="400.0" cy="271.9" rx="1.16" ry="2.61" transform="rotate(20 400.0 271.9)" fill="#28296a" stroke="none"/>
<ellipse cx="392.5" cy="284.0" rx="2.32" ry="1.015" transform="rotate(20 392.5 284.0)" fill="#28296a" stroke="none"/>
<ellipse cx="383.3" cy="271.9" rx="1.16" ry="2.175" transform="rotate(20 383.3 271.9)" fill="#28296a" stroke="none"/>
<ellipse cx="398.9" cy="280.4" rx="1.16" ry="2.32" transform="rotate(25 398.9 280.4)" fill="#28296a" stroke="none"/>
<ellipse cx="412.7" cy="286.1" rx="8.8" ry="16.2" transform="rotate(27 412.7 286.1)" fill="#28296a" stroke-width="1.95"/>
<path d="M420.0,271.7 L427.4,275.4 M405.3,300.5 L412.7,304.2" stroke-width="1.95"/>
<ellipse cx="420.1" cy="289.8" rx="8.8" ry="16.2" transform="rotate(27 420.1 289.8)" fill="#fcef14" stroke-width="1.82"/>
<ellipse cx="422.7" cy="286.2" rx="4.5" ry="2.55" transform="rotate(30 422.7 286.2)" fill="#28296a" stroke="none"/>
<ellipse cx="418.9" cy="295.2" rx="4.5" ry="2.25" transform="rotate(30 418.9 295.2)" fill="#28296a" stroke="none"/>
<ellipse cx="415.4" cy="287.7" rx="1.7999999999999998" ry="1.35" transform="rotate(0 415.4 287.7)" fill="#28296a" stroke="none"/>
<ellipse cx="424.1" cy="279.9" rx="2.25" ry="1.2000000000000002" transform="rotate(30 424.1 279.9)" fill="#28296a" stroke="none"/>
<ellipse cx="411.3" cy="296.9" rx="1.7999999999999998" ry="1.2000000000000002" transform="rotate(20 411.3 296.9)" fill="#28296a" stroke="none"/>
<ellipse cx="427.4" cy="291.8" rx="1.2000000000000002" ry="2.25" transform="rotate(20 427.4 291.8)" fill="#28296a" stroke="none"/>
<ellipse cx="416.3" cy="300.6" rx="1.9500000000000002" ry="1.0499999999999998" transform="rotate(20 416.3 300.6)" fill="#28296a" stroke="none"/>
<ellipse cx="426.2" cy="284.0" rx="1.2000000000000002" ry="1.7999999999999998" transform="rotate(20 426.2 284.0)" fill="#28296a" stroke="none"/>
<ellipse cx="423.7" cy="297.5" rx="1.2000000000000002" ry="1.9500000000000002" transform="rotate(20 423.7 297.5)" fill="#28296a" stroke="none"/>
<ellipse cx="418.1" cy="281.1" rx="1.9500000000000002" ry="1.0499999999999998" transform="rotate(30 418.1 281.1)" fill="#28296a" stroke="none"/>
<ellipse cx="413.5" cy="291.8" rx="1.2000000000000002" ry="1.7999999999999998" transform="rotate(20 413.5 291.8)" fill="#28296a" stroke="none"/>
<path d="M457.8,261.2 C459.4,261.0 461.4,261.3 463.4,262.0 C465.4,262.8 468.2,264.3 469.8,265.7 C471.5,267.1 472.1,268.3 473.4,270.4 C474.7,272.5 476.0,275.4 477.6,278.2 C479.3,281.0 481.4,284.7 483.3,287.4 C485.2,290.1 487.6,291.6 489.3,294.5 C490.9,297.5 491.8,301.5 493.2,305.2 C494.7,308.8 496.5,313.4 497.8,316.5 C499.0,319.6 500.5,321.5 500.6,323.6 C500.8,325.7 499.6,327.9 498.6,329.3 C497.6,330.7 495.8,330.7 494.7,332.1 C493.5,333.6 493.0,336.2 491.8,337.8 C490.6,339.5 489.5,341.5 487.6,342.1 C485.7,342.7 482.8,341.6 480.5,341.4 C478.1,341.1 475.7,340.3 473.4,340.7 C471.0,341.0 468.2,342.7 466.3,343.5 C464.4,344.3 463.4,344.8 462.0,345.6 C460.6,346.4 459.4,348.0 457.8,348.5 C456.1,348.9 453.7,349.3 452.1,348.5 C450.4,347.6 449.2,345.3 447.8,343.5 C446.4,341.7 444.5,340.2 443.6,337.8 C442.6,335.4 442.1,332.4 442.1,329.3 C442.1,326.2 443.0,322.4 443.6,319.4 C444.1,316.3 445.7,313.0 445.7,310.8 C445.7,308.7 444.6,307.8 443.6,306.6 C442.5,305.4 440.2,305.2 439.3,303.7 C438.4,302.3 437.6,299.6 437.9,298.1 C438.1,296.5 439.4,295.2 440.7,294.5 C442.0,293.8 444.1,293.7 445.7,293.8 C447.2,293.9 449.0,296.2 449.9,295.2 C450.9,294.3 451.0,291.2 451.4,288.1 C451.7,285.1 452.1,280.0 452.1,276.8 C452.1,273.6 451.1,271.2 451.4,269.0 C451.6,266.7 452.4,264.6 453.5,263.3 C454.6,262.0 456.1,261.4 457.8,261.2Z" fill="#28296a" stroke-width="2.08"/>
<path d="M457.0,266.8 C457.2,268.5 457.9,273.2 457.8,276.8 C457.6,280.3 456.9,284.3 456.3,288.1 C455.8,291.9 455.1,295.7 454.6,299.5 C454.1,303.3 453.4,307.1 453.2,310.8 C453.0,314.6 453.2,318.4 453.5,322.2 C453.8,326.0 454.4,330.8 454.9,333.6 C455.4,336.3 456.3,337.7 456.6,338.5" stroke-width="1.56"/>
<path d="M459.9,269.0 C460.0,270.3 460.7,273.8 460.6,276.8 C460.5,279.7 459.9,283.4 459.5,286.7 C459.0,290.0 458.0,295.0 457.8,296.7" stroke-width="1.3"/>
<path d="M449.2,296.7 C449.0,298.1 447.9,302.6 447.8,305.2 C447.7,307.8 448.2,309.4 448.5,312.3 C448.9,315.1 449.6,318.7 449.9,322.2 C450.3,325.7 450.1,330.2 450.7,333.6 C451.2,336.9 453.0,340.7 453.5,342.1" stroke-width="1.43"/>
<ellipse cx="465.8" cy="273.2" rx="2.8" ry="3.6" transform="rotate(25 465.8 273.2)" stroke-width="1.69"/>
<ellipse cx="464.8" cy="273.7" rx="1.5" ry="2.2" transform="rotate(25 464.8 273.7)" stroke-width="1.17"/>
<ellipse cx="458.5" cy="341.4" rx="2.8" ry="3.6" transform="rotate(25 458.5 341.4)" stroke-width="1.69"/>
<ellipse cx="491.4" cy="322.9" rx="3.0" ry="3.6" transform="rotate(25 491.4 322.9)" stroke-width="1.69"/>
<path d="M445.7,293.8 C445.1,294.2 443.0,295.0 442.1,295.9 C441.3,296.9 440.7,298.2 440.7,299.5 C440.7,300.8 441.3,302.7 442.1,303.7 C443.0,304.8 445.1,305.5 445.7,305.9" stroke-width="1.43"/>
<ellipse cx="454.2" cy="305.2" rx="2.8" ry="3.2" transform="rotate(20 454.2 305.2)" fill="#fcef14" stroke-width="1.3"/>
<ellipse cx="481.6" cy="297.4" rx="2.3" ry="3.4" transform="rotate(35 481.6 297.4)" fill="#fcef14" stroke-width="1.3"/>
<ellipse cx="469.8" cy="335.7" rx="2.3" ry="3.4" transform="rotate(35 469.8 335.7)" fill="#fcef14" stroke-width="1.3"/>
<ellipse cx="468.4" cy="320.1" rx="8.6" ry="12.2" transform="rotate(18 468.4 320.1)" fill="#fcef14" stroke-width="1.56"/>
<ellipse cx="475.1" cy="321.1" rx="6.6" ry="9.0" transform="rotate(18 475.1 321.1)" fill="#fcef14" stroke-width="1.56"/>
<ellipse cx="476.3" cy="321.7" rx="3.0" ry="4.8" transform="rotate(18 476.3 321.7)" fill="#28296a" stroke="none"/>
<path d="M468.4,310.8 C467.9,312.0 465.8,315.5 465.6,317.9 C465.3,320.4 466.3,323.7 467.0,325.7 C467.7,327.8 469.3,329.3 469.8,330.0" stroke="#28296a" stroke-width="1.69"/>
<path d="M471.9,311.6 C471.5,312.7 469.6,316.3 469.4,318.7 C469.2,321.0 469.9,323.9 470.5,325.7 C471.1,327.6 472.7,329.3 473.1,330.0" stroke="#28296a" stroke-width="1.3"/>
<path d="M464.1,313.0 C463.7,314.0 461.6,317.2 461.3,319.4 C461.0,321.5 462.1,324.7 462.3,325.7" stroke="#28296a" stroke-width="1.3"/>
<path d="M467.5,275.6 L488,287.4" stroke-width="1.69" opacity="0.9"/>
<path d="M496,304.8 L492.2,318.5" stroke-width="1.04" stroke-dasharray="2.5 2" opacity="0.8"/>
<path d="M558.5,317.2 C559.9,317.4 561.3,318.2 562.7,320.2 C564.1,322.1 565.2,325.7 567.0,329.0 C568.8,332.2 571.4,336.7 573.4,339.6 C575.4,342.6 577.7,344.3 579.0,346.7 C580.3,349.1 580.0,351.0 581.2,353.8 C582.4,356.7 584.6,360.9 586.1,363.7 C587.7,366.6 590.0,368.5 590.7,370.8 C591.3,373.2 590.7,375.5 590.1,377.9 C589.5,380.4 588.5,383.1 587.3,385.3 C586.0,387.5 584.2,389.6 582.6,391.0 C581.0,392.4 580.3,393.5 577.6,393.8 C574.9,394.2 569.6,392.9 566.3,393.1 C563.0,393.4 559.9,394.3 557.8,395.3 C555.6,396.2 554.9,397.6 553.5,398.8 C552.1,400.0 550.7,401.8 549.2,402.4 C547.8,402.9 546.1,403.1 545.0,402.4 C543.9,401.6 543.0,399.8 542.6,397.8 C542.2,395.9 542.8,393.8 542.6,390.7 C542.3,387.6 541.4,383.6 541.1,379.4 C540.9,375.1 540.8,369.9 541.1,365.2 C541.5,360.4 542.3,355.7 543.3,351.0 C544.2,346.2 545.6,341.0 546.8,336.8 C548.0,332.5 549.1,328.4 550.4,325.4 C551.6,322.5 552.9,320.4 554.2,319.0 C555.6,317.7 557.0,317.0 558.5,317.2Z" fill="#28296a" stroke-width="2.27"/>
<path d="M558.5,336.8 C559.5,336.0 561.7,334.8 562.7,335.1 C563.7,335.3 564.6,336.0 564.4,338.2 C564.3,340.4 562.9,344.6 561.7,348.1 C560.6,351.7 558.5,355.7 557.5,359.5 C556.4,363.3 555.9,367.5 555.3,370.8 C554.7,374.2 554.7,378.1 553.9,379.4 C553.2,380.6 551.6,379.6 550.9,378.2 C550.3,376.8 549.9,374.0 549.9,370.8 C550.0,367.7 550.7,363.5 551.4,359.5 C552.1,355.5 553.4,350.0 554.2,346.7 C555.0,343.4 555.6,341.3 556.3,339.6 C557.0,338.0 557.4,337.5 558.5,336.8Z" stroke-width="2.08"/>
<path d="M566.0,346.7 C566.6,346.4 568.8,344.5 569.8,345.0 C570.9,345.5 572.0,347.8 572.2,349.6 C572.5,351.3 571.1,353.6 571.4,355.2 C571.6,356.9 572.6,358.8 573.6,359.5 C574.7,360.2 576.4,358.5 577.6,359.5 C578.8,360.4 580.5,363.3 580.7,365.2 C581.0,367.1 580.0,368.7 579.3,370.8 C578.6,373.0 576.7,375.9 576.5,377.9 C576.3,380.0 577.1,382.0 577.9,383.3 C578.7,384.7 581.0,385.1 581.0,386.2 C581.1,387.3 580.0,389.4 578.3,390.0 C576.6,390.6 572.8,390.4 570.8,390.0 C568.8,389.7 567.5,388.9 566.6,387.9 C565.6,386.8 566.0,384.5 565.1,383.6 C564.3,382.7 562.5,383.1 561.3,382.5 C560.1,381.9 558.3,380.5 557.8,380.1" stroke-width="2.08"/>
<path d="M566.0,346.7 C565.6,347.9 564.1,351.4 563.4,353.8 C562.8,356.2 562.1,358.8 562.0,360.9 C561.9,363.0 562.6,365.6 562.7,366.6" stroke-width="2.08"/>
<ellipse cx="559.5" cy="371.1" rx="5.6" ry="8.4" transform="rotate(22 559.5 371.1)" fill="#fcef14" stroke-width="1.56"/>
<ellipse cx="560.0" cy="370.8" rx="2.7" ry="4.9" transform="rotate(22 560.0 370.8)" fill="#28296a" stroke="none"/>
<path d="M553.2,379.4 C553.5,379.9 554.0,382.1 554.9,382.5 C555.8,382.8 557.9,381.7 558.5,381.5" stroke-width="2.08"/>
<ellipse cx="556.3" cy="325.7" rx="2.7" ry="3.2" transform="rotate(20 556.3 325.7)" stroke-width="1.69"/>
<ellipse cx="584.0" cy="376.5" rx="3.0" ry="4.0" transform="rotate(25 584.0 376.5)" stroke-width="1.69"/>
<ellipse cx="583.0" cy="376.9" rx="1.6" ry="2.6" transform="rotate(25 583.0 376.9)" stroke-width="1.17"/>
<ellipse cx="548.5" cy="393.8" rx="2.8" ry="3.8" transform="rotate(25 548.5 393.8)" stroke-width="1.69"/>
<ellipse cx="547.5" cy="394.4" rx="1.5" ry="2.4" transform="rotate(25 547.5 394.4)" stroke-width="1.17"/>
<path d="M488.1,395.8 L523.0,417.9 L522.4,421.7 L480.7,443.4 L446.2,426.2 L447.0,420.0Z" fill="#fcef14" stroke-width="3.38" stroke-linejoin="round"/>
<path d="M488.1,397.4 L519.0,415.8 L480.7,436.4 L451.9,419.0Z" stroke="#28296a" stroke-width="1.17" fill="none"/>
<path d="M447.9,422.6 L480.7,439.6 L521.1,419.6" stroke="#28296a" stroke-width="0.59" opacity="0.45"/>
<path d="M706.8,289.9 C707.9,289.6 710.1,290.5 711.2,290.9 C712.3,291.3 715.3,292.8 716.6,293.3 C717.9,293.8 722.6,294.8 722.4,294.8 C722.2,294.8 714.5,293.0 715.0,293.3 C715.5,293.6 723.8,297.1 726.7,297.7 C729.7,298.3 737.0,298.4 740.4,298.7 C743.8,298.9 753.3,299.0 756.0,299.6 C758.8,300.3 762.2,303.5 763.8,304.5 C765.4,305.6 768.1,307.9 769.7,308.4 C771.3,309.0 775.4,309.4 777.5,309.4 C779.6,309.4 785.4,307.9 787.8,308.4 C790.1,309.0 795.6,312.9 798.0,314.3 C800.5,315.7 807.3,319.3 808.8,320.6 C810.2,322.0 810.2,324.7 810.2,326.0 C810.2,327.3 809.1,330.3 808.8,331.9 C808.4,333.5 807.6,337.9 807.3,339.7 C806.9,341.5 806.3,345.9 805.8,347.5 C805.4,349.1 803.7,352.0 803.4,353.4 C803.0,354.7 802.5,358.0 802.9,359.2 C803.3,360.5 805.8,363.2 806.8,364.1 C807.8,365.0 810.8,366.1 811.2,367.0 C811.6,367.9 810.7,371.0 810.2,371.9 C809.7,372.8 807.4,374.0 806.8,374.8 C806.2,375.6 805.4,377.7 805.3,378.8 C805.3,379.8 805.5,382.6 806.3,383.6 C807.2,384.7 811.2,386.8 812.7,387.5 C814.1,388.3 817.4,389.0 818.5,389.9 C819.6,390.7 821.6,393.5 821.9,394.8 C822.2,396.0 821.6,399.4 821.0,400.6 C820.3,401.9 818.0,404.5 816.6,405.5 C815.1,406.5 810.3,408.5 808.8,409.4 C807.2,410.3 804.4,412.5 802.9,413.3 C801.4,414.1 798.3,415.1 796.1,416.2 C793.8,417.4 786.4,421.5 783.4,423.1 C780.3,424.7 772.0,428.7 769.7,429.9 C767.4,431.2 764.7,432.7 763.8,433.8 C762.9,435.0 762.7,438.8 761.9,439.7 C761.1,440.6 759.0,441.1 757.0,441.6 C754.9,442.2 747.1,443.8 744.3,444.6 C741.4,445.4 734.6,447.5 732.6,448.5 C730.5,449.5 727.6,452.1 726.7,453.4 C725.8,454.6 725.4,458.2 724.8,459.2 C724.1,460.2 722.0,461.6 720.9,462.1 C719.7,462.7 717.1,463.6 715.0,464.1 C712.9,464.6 706.6,465.4 702.9,466.1 C699.2,466.7 686.5,468.8 683.4,470.0 C680.2,471.1 677.1,475.5 675.5,475.8 C674.0,476.2 671.1,473.6 669.7,472.9 C668.3,472.2 664.6,469.5 663.8,470.0 C663.0,470.4 663.5,475.9 662.9,476.8 C662.2,477.7 660.0,478.5 658.0,477.8 C655.9,477.1 646.9,472.9 645.3,470.9 C643.7,469.0 644.8,463.2 644.3,461.2 C643.8,459.1 642.5,455.0 641.4,453.4 C640.2,451.8 636.1,448.6 634.5,447.5 C632.9,446.4 628.9,444.7 627.7,443.6 C626.4,442.5 624.6,439.4 623.8,437.7 C623.0,436.0 621.4,430.8 620.9,428.9 C620.3,427.1 619.2,423.8 618.9,422.1 C618.6,420.4 617.8,416.1 617.9,414.3 C618.0,412.5 619.5,408.8 619.9,406.5 C620.2,404.2 620.6,397.5 620.9,394.8 C621.1,392.0 621.9,385.8 622.3,382.7 C622.7,379.5 623.8,370.4 624.3,368.0 C624.8,365.6 625.8,363.5 626.7,362.1 C627.6,360.8 630.0,358.3 632.1,356.8 C634.1,355.3 641.5,351.2 644.3,349.5 C647.1,347.7 653.5,343.5 656.0,341.6 C658.5,339.8 663.7,335.9 665.8,333.8 C667.8,331.8 671.5,326.1 673.6,324.1 C675.6,322.0 681.2,317.8 683.4,316.2 C685.5,314.7 690.7,311.6 692.1,310.4 C693.6,309.2 694.9,307.2 695.6,306.0 C696.2,304.7 697.3,301.1 698.0,299.6 C698.7,298.2 700.9,294.4 701.9,293.3 C702.9,292.2 705.7,290.2 706.8,289.9Z" fill="#28296a" stroke-width="1.95"/>
<path d="M632.1,356.8 L658.0,373.4" stroke-width="1.62"/>
<path d="M658.0,373.4 L669.7,366.1 L683.4,357.3 L696.1,352.4" stroke-width="1.62"/>
<path d="M692.1,310.4 L712.7,322.1 L716.6,311.4 L720.5,303.6 L725.4,300.6 L735.0,297.7" stroke-width="1.62"/>
<path d="M709.7,328.0 L698.0,319.2 L685.3,330.9 L678.5,339.7 L660.9,352.4 L669.7,348.5 L679.5,342.6" stroke-width="1.62"/>
<path d="M685.3,331.9 L697.0,340.7" stroke-width="1.62"/>
<path d="M679.5,340.2 L692.1,348.0" stroke-width="1.62"/>
<path d="M712.7,322.1 C712.0,323.6 710.4,328.0 708.8,330.9 C707.1,333.8 704.7,337.6 702.9,339.7 C701.1,341.8 698.8,342.9 698.0,343.6" stroke-width="1.62"/>
<path d="M715.6,324.1 C714.9,325.4 713.1,329.3 711.7,331.9 C710.2,334.5 708.4,337.4 706.8,339.7 C705.2,342.0 702.7,344.6 701.9,345.5" stroke-width="1.62"/>
<ellipse cx="695.1" cy="345.7" rx="3.3" ry="3.3" transform="rotate(0 695.1 345.7)" fill="#fcef14" stroke-width="1.04"/>
<path d="M626.7,362.1 C626.5,363.9 625.9,369.5 625.5,372.9 C625.2,376.3 624.9,379.0 624.6,382.7 C624.2,386.4 623.8,393.0 623.6,395.1" stroke-width="1.62"/>
<path d="M649.2,380.7 L629.6,370.9 L627.9,378.8 L626.9,395.1" stroke-width="1.62"/>
<path d="M629.6,370.9 L632.1,370.0 L652.1,381.2" stroke-width="1.62"/>
<ellipse cx="633.3" cy="378.3" rx="2.34" ry="3.91" transform="rotate(-20 633.3 378.3)" stroke-width="1.62"/>
<path d="M651.1,376.8 L655.0,374.8 L658.9,378.8 L658.0,383.6 L653.1,382.7Z" fill="#fcef14" stroke-width="1.3"/>
<path d="M658.0,373.4 C658.5,374.9 660.2,379.0 660.9,382.7 C661.5,386.3 661.7,393.0 661.9,395.1" stroke-width="1.62"/>
<path d="M634.5,395.1 C635.0,394.1 636.0,390.9 637.5,389.5 C638.9,388.1 641.5,386.9 643.3,386.6 C645.1,386.2 647.4,387.4 648.2,387.5" stroke-width="1.62"/>
<path d="M642.3,395.1 C642.8,394.1 644.0,390.6 645.3,389.5 C646.6,388.4 649.3,388.7 650.2,388.5" stroke-width="2.86"/>
<ellipse cx="685.8" cy="383.5" rx="15.6" ry="26.5" transform="rotate(24 685.8 383.5)" stroke-width="4.81"/>
<ellipse cx="688.2" cy="384.0" rx="10.0" ry="20.5" transform="rotate(24 688.2 384.0)" stroke-width="1.3"/>
<path d="M682.4,381.2 L686.8,378.3 L688.2,381.2 L692.1,378.8" stroke-width="1.43"/>
<path d="M704.5,361.1 C706.3,362.8 712.2,367.6 715.2,371.8 C718.3,376.0 721.0,381.9 722.7,386.4 C724.3,391.0 725.2,395.2 725.0,399.1 C724.8,403.0 722.1,408.1 721.5,409.9" stroke-width="4.68"/>
<path d="M716.4,381.6 C717.3,383.7 720.8,390.4 721.5,394.3 C722.2,398.2 720.8,403.2 720.7,405.0" stroke-width="1.82" stroke="#28296a"/>
<path d="M701.6,368.9 C703.0,371.0 708.1,376.8 710.4,381.6 C712.6,386.3 714.6,392.6 715.2,397.2 C715.9,401.7 714.4,407.0 714.3,408.9" stroke-width="1.43"/>
<path d="M669.7,370.9 C671.0,369.5 674.2,364.5 677.5,362.1 C680.8,359.8 685.3,357.3 689.2,356.8 C693.1,356.3 698.0,357.3 700.9,359.2 C703.9,361.1 705.5,364.8 706.8,368.0 C708.1,371.3 708.4,377.0 708.8,378.8" stroke-width="1.43"/>
<path d="M700.9,345.5 C702.2,346.5 706.6,348.8 708.8,351.4 C710.9,354.0 712.5,357.6 713.6,361.2 C714.8,364.8 715.3,370.9 715.6,372.9" stroke-width="1.62"/>
<path d="M705.8,343.6 C707.1,344.4 711.4,345.9 713.6,348.5 C715.9,351.1 718.2,355.1 719.5,359.2 C720.8,363.3 721.1,370.6 721.4,372.9" stroke-width="1.62"/>
<path d="M712.7,395.1 C712.8,393.0 713.0,385.9 713.6,382.7 C714.3,379.4 715.1,377.4 716.6,375.8 C718.0,374.2 719.3,372.9 722.4,372.9 C725.5,372.9 732.9,375.3 735.0,375.8" stroke-width="3.12"/>
<path d="M718.5,395.1 C718.8,393.3 719.2,387.3 720.0,384.6 C720.8,381.9 722.8,379.7 723.4,378.8" stroke-width="2.6"/>
<path d="M725.4,395.1 C725.5,393.6 725.5,388.8 726.3,386.6 C727.1,384.3 729.6,382.5 730.2,381.7" stroke-width="2.6"/>
<path d="M722.4,352.4 C723.1,351.6 724.2,348.6 726.3,347.5 C728.4,346.4 733.6,345.9 735.0,345.5" stroke-width="3.38"/>
<path d="M718.5,339.7 C719.7,340.3 723.4,341.6 725.4,343.6 C727.3,345.5 729.4,350.1 730.2,351.4" stroke-width="1.62"/>
<path d="M727.3,370.9 C728.0,369.3 729.9,363.8 731.2,361.2 C732.5,358.6 734.4,356.3 735.0,355.3" stroke-width="1.62"/>
<path d="M725.4,300.6 C724.7,301.4 722.3,305.2 721.4,307.5 C720.6,309.7 720.1,312.7 720.5,314.3 C720.8,315.9 722.1,317.2 723.4,317.2 C724.7,317.2 727.1,315.8 728.3,314.3 C729.5,312.8 730.6,310.2 730.7,308.4 C730.9,306.6 730.2,304.5 729.3,303.6 C728.4,302.6 726.0,303.1 725.4,302.6 C724.7,302.1 726.0,299.8 725.4,300.6Z" stroke-width="1.62"/>
<path d="M716.6,328.0 C717.1,327.0 718.4,323.4 719.5,322.1 C720.6,320.8 722.7,320.5 723.4,320.2" stroke-width="1.62"/>
<ellipse cx="725.7" cy="310.6" rx="4.1" ry="7.03" transform="rotate(15 725.7 310.6)" stroke-width="1.62"/>
<ellipse cx="729.6" cy="331.9" rx="5.37" ry="7.32" transform="rotate(15 729.6 331.9)" stroke-width="2.86"/>
<ellipse cx="729.5" cy="331.9" rx="2.15" ry="3.32" transform="rotate(15 729.5 331.9)" stroke-width="1.62" fill="#fcef14"/>
<path d="M726.7,297.7 C725.7,298.8 722.3,301.9 720.9,304.5 C719.4,307.1 718.9,311.2 717.9,313.3 C717.0,315.4 715.5,316.6 715.0,317.2" stroke-width="1.62"/>
<path d="M715.0,326.0 C715.7,325.4 717.3,322.9 718.9,322.1 C720.5,321.3 723.0,321.0 724.8,321.1 C726.6,321.3 728.8,322.8 729.6,323.1" stroke-width="1.62"/>
<path d="M730.6,302.6 C731.8,303.9 735.5,307.6 737.5,310.4 C739.4,313.2 741.5,317.7 742.3,319.2" stroke-width="1.62"/>
<path d="M729.6,314.3 C731.4,315.3 737.5,317.4 740.4,320.2 C743.3,322.9 746.2,327.6 747.2,330.9 C748.2,334.2 747.4,336.9 746.2,339.7 C745.1,342.5 741.4,346.2 740.4,347.5" stroke-width="1.62"/>
<path d="M726.7,317.2 C728.5,318.4 734.9,321.6 737.5,324.1 C740.1,326.5 741.7,329.3 742.3,331.9 C743.0,334.5 742.3,337.4 741.4,339.7 C740.4,342.0 737.3,344.6 736.5,345.5" stroke-width="1.62"/>
<ellipse cx="744.3" cy="322.1" rx="3.2" ry="3.2" transform="rotate(0 744.3 322.1)" fill="#fcef14" stroke-width="1.04"/>
<path d="M715.0,293.3 L727.7,296.7 L742.3,300.6 L758.0,306.0" stroke-width="1.69"/>
<path d="M715.0,295.9 L726.7,299.6 L741.4,304.5 L756.0,308.4" stroke-width="1.69"/>
<path d="M717.0,294.3 L719.1,297.4 M721.6,295.7 L723.8,298.8 M726.3,297.1 L728.5,300.2 M731.0,298.5 L733.2,301.7 M735.7,299.9 L737.9,303.1 M740.4,301.4 L742.5,304.5 M745.1,302.8 L747.2,305.9 M749.8,304.2 L751.9,307.3 M754.5,305.6 L756.6,308.7 " stroke-width="1.43"/>
<path d="M744.3,314.3 L758.0,310.4 L769.7,308.4" stroke-width="1.62"/>
<path d="M746.2,318.7 C748.5,318.4 755.0,317.8 759.9,316.7 C764.8,315.7 772.9,313.1 775.5,312.3" stroke-width="1.62"/>
<path d="M733.6,301.6 L744.3,314.3" stroke-width="1.62"/>
<path d="M760.9,318.2 C761.7,319.2 763.7,321.8 765.8,324.1 C767.9,326.3 771.3,328.6 773.6,331.9 C775.9,335.1 777.8,339.7 779.5,343.6 C781.1,347.5 782.9,352.1 783.4,355.3 C783.8,358.6 782.5,361.8 782.4,363.1" stroke-width="1.62"/>
<path d="M760.9,318.2 C762.4,318.0 766.9,316.4 769.7,316.7 C772.5,317.1 775.2,318.3 777.5,320.2 C779.8,322.0 782.4,326.7 783.4,328.0" stroke-width="1.62"/>
<path d="M761.9,321.1 C762.9,321.5 765.6,321.9 767.7,323.1 C769.9,324.2 772.6,326.5 774.6,328.0 C776.5,329.4 778.6,331.2 779.5,331.9" stroke-width="1.62"/>
<path d="M775.5,326.0 C776.8,326.8 780.8,328.3 783.4,330.9 C786.0,333.5 788.7,337.9 791.2,341.6 C793.6,345.4 796.1,349.8 798.0,353.4 C799.9,356.9 801.7,361.5 802.4,363.1" stroke-width="1.62"/>
<path d="M777.5,309.4 L783.4,318.2 L785.3,321.6 L800.9,318.7 L808.8,320.6" stroke-width="1.62"/>
<path d="M785.3,321.6 L783.4,325.0" stroke-width="1.62"/>
<ellipse cx="762.1" cy="352.4" rx="9.57" ry="15.43" transform="rotate(25 762.1 352.4)" stroke-width="1.95"/>
<ellipse cx="760.9" cy="352.4" rx="6.05" ry="11.52" transform="rotate(25 760.9 352.4)" stroke-width="3.9"/>
<ellipse cx="767.2" cy="333.8" rx="2.8" ry="2.8" transform="rotate(0 767.2 333.8)" fill="#fcef14" stroke-width="1.04"/>
<path d="M767.2,336.8 C767.7,337.2 768.8,337.9 769.7,339.7 C770.6,341.5 772.1,346.2 772.6,347.5" stroke-width="1.62"/>
<ellipse cx="784.8" cy="328.0" rx="3.12" ry="3.12" transform="rotate(0 784.8 328.0)" stroke-width="1.95"/>
<ellipse cx="784.8" cy="328.0" rx="1.27" ry="1.56" transform="rotate(0 784.8 328.0)" stroke-width="1.3"/>
<ellipse cx="795.3" cy="330.9" rx="4.1" ry="6.25" transform="rotate(15 795.3 330.9)" stroke-width="1.95"/>
<ellipse cx="803.4" cy="326.0" rx="2.34" ry="4.1" transform="rotate(15 803.4 326.0)" stroke-width="1.69"/>
<ellipse cx="801.9" cy="343.6" rx="2.44" ry="4.49" transform="rotate(35 801.9 343.6)" stroke-width="1.82"/>
<path d="M782.4,357.3 L800.0,366.1" stroke-width="1.62"/>
<path d="M779.5,363.1 L799.0,372.9" stroke-width="1.62"/>
<path d="M782.4,357.3 L779.5,363.1 L775.5,375.8 L777.5,380.7 L793.1,387.5" stroke-width="1.62"/>
<path d="M777.5,380.7 L783.4,370.9" stroke-width="1.62"/>
<ellipse cx="805.3" cy="370.9" rx="2.8" ry="2.8" transform="rotate(0 805.3 370.9)" fill="#fcef14" stroke-width="1.04"/>
<path d="M793.1,385.6 L798.0,378.8 L800.0,386.6Z" fill="#fcef14" stroke-width="1.3"/>
<path d="M782.4,383.6 L789.2,388.5 L795.1,395.1" stroke-width="2.6"/>
<ellipse cx="729.6" cy="361.2" rx="6.84" ry="14.65" transform="rotate(22 729.6 361.2)" stroke-width="1.82"/>
<ellipse cx="727.7" cy="362.1" rx="3.91" ry="11.72" transform="rotate(22 727.7 362.1)" stroke-width="3.12"/>
<path d="M720.9,348.5 L727.7,348.0 L734.5,349.9 L732.6,354.3 L724.8,355.8 L719.9,352.9Z" stroke-width="1.43"/>
<ellipse cx="725.3" cy="351.9" rx="2.4" ry="2.4" transform="rotate(0 725.3 351.9)" fill="#fcef14" stroke-width="1.04"/>
<path d="M737.5,349.5 C738.6,350.1 742.7,351.4 744.3,353.4 C745.9,355.3 746.9,358.6 747.2,361.2 C747.6,363.8 746.4,367.7 746.2,369.0" stroke-width="1.62"/>
<path d="M715.0,339.7 C716.0,340.3 718.9,342.8 720.9,343.6 C722.8,344.4 725.7,344.4 726.7,344.6" stroke-width="2.6"/>
<path d="M734.5,377.8 C735.7,376.6 738.5,375.1 740.4,375.3 C742.3,375.6 744.9,377.5 745.8,379.2 C746.7,380.9 746.4,384.0 745.8,385.6 C745.1,387.1 743.5,388.3 741.9,388.5 C740.2,388.8 737.4,388.0 736.0,387.1 C734.6,386.1 733.8,384.2 733.6,382.7 C733.3,381.1 733.4,379.0 734.5,377.8Z" stroke-width="1.43"/>
<ellipse cx="743.5" cy="379.5" rx="2.3" ry="2.3" transform="rotate(0 743.5 379.5)" fill="#fcef14" stroke-width="1.04"/>
<ellipse cx="736.0" cy="386.6" rx="2.0" ry="2.0" transform="rotate(0 736.0 386.6)" fill="#fcef14" stroke-width="1.04"/>
<path d="M715.0,372.9 C716.3,373.5 720.0,375.2 722.8,376.8 C725.6,378.4 730.1,381.7 731.6,382.7" stroke-width="2.86"/>
<path d="M747.2,369.0 C748.0,368.8 750.5,367.8 752.1,368.0 C753.7,368.2 756.2,369.6 757.0,370.0" stroke-width="1.62"/>
<path d="M744.3,353.4 C745.3,352.4 748.9,349.8 750.2,347.5 C751.5,345.2 751.8,341.0 752.1,339.7" stroke-width="1.62"/>
<ellipse cx="766.0" cy="390.5" rx="10.25" ry="12.89" transform="rotate(25 766.0 390.5)" stroke-width="1.95"/>
<ellipse cx="765.0" cy="390.9" rx="6.05" ry="8.98" transform="rotate(25 765.0 390.9)" stroke-width="1.95"/>
<ellipse cx="767.0" cy="390.1" rx="12.21" ry="14.65" transform="rotate(25 767.0 390.1)" stroke-width="1.43"/>
<path d="M744.3,390.9 C744.6,392.8 745.7,399.3 746.1,402.6 C746.4,405.8 746.4,407.5 746.2,410.4 C746.1,413.3 745.6,415.9 745.3,420.2 C744.9,424.4 744.5,433.2 744.3,435.8" stroke-width="1.62"/>
<path d="M746.2,417.2 C747.9,416.7 752.4,415.9 756.0,414.3 C759.6,412.7 764.2,410.1 767.7,407.5 C771.3,404.9 775.2,401.4 777.5,398.7 C779.8,395.9 780.8,392.2 781.4,390.9" stroke-width="1.62"/>
<path d="M747.2,420.2 L758.9,430.9" stroke-width="1.62"/>
<path d="M747.2,430.9 L756.0,435.8" stroke-width="1.62"/>
<path d="M715.0,447.5 C718.3,446.5 727.7,443.9 734.5,441.6 C741.4,439.4 748.9,436.8 756.0,433.8 C763.2,430.9 770.5,427.3 777.5,424.1 C784.5,420.8 794.6,415.9 798.0,414.3" stroke-width="1.62"/>
<path d="M715.0,443.6 C718.3,442.6 728.0,439.9 734.5,437.7 C741.0,435.6 750.8,432.0 754.1,430.9" stroke-width="1.62"/>
<path d="M715.0,452.4 C716.6,451.9 721.8,450.6 724.8,449.5 C727.7,448.3 731.3,446.2 732.6,445.5" stroke-width="1.62"/>
<path d="M765.8,430.9 C768.7,429.3 778.5,423.6 783.4,421.1 C788.2,418.7 793.1,417.1 795.1,416.2" stroke-width="1.62"/>
<ellipse cx="760.4" cy="435.8" rx="3.4" ry="3.4" transform="rotate(0 760.4 435.8)" fill="#fcef14" stroke-width="1.04"/>
<ellipse cx="801.1" cy="410.4" rx="3.0" ry="3.0" transform="rotate(0 801.1 410.4)" fill="#fcef14" stroke-width="1.04"/>
<ellipse cx="721.3" cy="457.3" rx="3.0" ry="3.0" transform="rotate(0 721.3 457.3)" fill="#fcef14" stroke-width="1.04"/>
<path d="M733.6,430.9 L740.4,425.0 L745.3,433.8 L743.3,437.7 L734.5,439.7Z" fill="#fcef14" stroke-width="1.3"/>
<path d="M737.0,430.9 L740.6,428.0 L742.8,433.3 L738.4,435.3Z" fill="#28296a" stroke="none"/>
<path d="M783.4,390.9 L799.0,400.6 L802.9,394.8 L808.8,396.7 L806.8,402.6 L804.8,407.5" stroke-width="1.62"/>
<path d="M799.0,400.6 L798.0,410.4" stroke-width="1.62"/>
<path d="M813.6,394.8 C814.1,395.4 817.4,396.9 816.6,398.7 C815.7,400.5 810.7,404.0 808.8,405.5 C806.8,407.0 805.5,407.1 804.8,407.5" stroke-width="1.62"/>
<path d="M806.8,390.9 C807.8,391.3 811.4,392.5 812.7,393.8 C814.0,395.1 815.4,396.9 814.6,398.7 C813.8,400.5 808.9,403.6 807.8,404.5" stroke-width="1.62"/>
<path d="M731.6,392.8 C732.9,391.6 736.9,390.7 738.4,391.3 C739.9,392.0 740.6,394.8 740.6,396.7 C740.6,398.6 739.6,401.5 738.4,402.6 C737.3,403.7 734.9,404.0 733.6,403.4 C732.3,402.7 731.0,400.4 730.6,398.7 C730.3,396.9 730.3,394.0 731.6,392.8Z" stroke-width="1.43"/>
<ellipse cx="733.1" cy="395.7" rx="2.2" ry="2.2" transform="rotate(0 733.1 395.7)" fill="#fcef14" stroke-width="1.04"/>
<ellipse cx="736.0" cy="402.1" rx="2.0" ry="2.0" transform="rotate(0 736.0 402.1)" fill="#fcef14" stroke-width="1.04"/>
<path d="M745.3,413.3 L749.2,408.4 L754.1,409.4 L753.1,414.3" stroke-width="2.34"/>
<path d="M715.0,414.3 C716.3,414.6 720.7,414.9 722.8,416.2 C724.9,417.6 726.6,419.5 727.7,422.1 C728.8,424.7 729.3,430.2 729.6,431.9" stroke-width="1.62"/>
<path d="M724.8,390.9 C724.1,393.1 722.5,400.6 720.9,404.5 C719.2,408.4 716.0,412.7 715.0,414.3" stroke-width="3.38"/>
<ellipse cx="720.0" cy="434.3" rx="9.3" ry="11.5" transform="rotate(25 720.0 434.3)" stroke-width="1.82"/>
<ellipse cx="720.0" cy="434.3" rx="6.2" ry="8.6" transform="rotate(25 720.0 434.3)" stroke-width="3.9"/>
<ellipse cx="720.4" cy="434.3" rx="2.4" ry="4.6" transform="rotate(25 720.4 434.3)" stroke-width="1.3"/>
<path d="M624.8,392.8 C624.5,394.8 623.5,401.0 623.0,404.5 C622.6,408.1 621.9,411.0 622.0,414.3 C622.2,417.6 623.0,420.8 623.8,424.1 C624.6,427.3 625.3,430.9 626.7,433.8 C628.2,436.8 631.6,440.3 632.6,441.6" stroke-width="1.62"/>
<path d="M642.3,387.9 C641.0,388.3 636.2,388.4 634.5,389.9 C632.9,391.3 632.7,394.3 632.6,396.7 C632.4,399.2 632.7,401.3 633.6,404.5 C634.4,407.8 635.7,413.0 637.5,416.2 C639.3,419.5 643.2,422.8 644.3,424.1" stroke-width="1.62"/>
<path d="M647.2,388.9 C646.7,389.9 644.6,392.2 644.3,394.8 C644.0,397.4 645.1,402.9 645.3,404.5" stroke-width="3.12"/>
<ellipse cx="624.8" cy="408.9" rx="1.8" ry="1.8" transform="rotate(0 624.8 408.9)" fill="#fcef14" stroke-width="1.04"/>
<ellipse cx="629.6" cy="417.7" rx="2.93" ry="3.71" transform="rotate(-20 629.6 417.7)" stroke-width="1.82"/>
<ellipse cx="629.6" cy="417.7" rx="1.17" ry="1.56" transform="rotate(-20 629.6 417.7)" stroke-width="1.3"/>
<ellipse cx="635.0" cy="440.9" rx="3.91" ry="6.05" transform="rotate(15 635.0 440.9)" stroke-width="1.69"/>
<path d="M624.8,435.8 L632.1,434.3" stroke-width="1.62"/>
<path d="M627.2,446.0 L635.0,447.5" stroke-width="1.62"/>
<path d="M620.9,428.9 C621.7,429.8 624.6,431.4 625.7,433.8 C626.9,436.3 627.4,442.0 627.7,443.6" stroke-width="1.62"/>
<path d="M640.4,411.4 C641.0,409.7 645.9,408.3 648.2,407.9 C650.5,407.6 652.1,408.4 654.1,409.4 C656.0,410.5 658.8,412.7 659.9,414.3 C661.1,415.9 661.5,417.8 660.9,419.2 C660.2,420.6 658.0,421.9 656.0,422.6 C654.1,423.3 651.1,424.1 649.2,423.3 C647.2,422.5 645.8,419.7 644.3,417.7 C642.8,415.7 639.7,413.0 640.4,411.4Z" stroke-width="1.95"/>
<path d="M644.3,412.3 C644.5,411.4 647.2,410.3 648.2,410.6 C649.2,410.9 650.3,413.4 650.2,414.3 C650.0,415.2 648.2,416.6 647.2,416.2 C646.2,415.9 644.1,413.3 644.3,412.3Z" fill="#fcef14" stroke-width="1.3"/>
<ellipse cx="657.0" cy="417.2" rx="2.54" ry="3.12" transform="rotate(0 657.0 417.2)" stroke-width="2.08"/>
<path d="M659.9,423.1 L683.4,435.8" stroke-width="1.62"/>
<path d="M658.0,418.2 L681.4,430.9" stroke-width="1.62"/>
<path d="M655.0,391.8 L663.8,388.9 L665.0,397.7 L656.2,400.6Z" stroke-width="1.82"/>
<path d="M655.0,391.8 L651.1,394.3 L652.6,402.6 L656.2,400.6" stroke-width="1.62"/>
<path d="M644.3,424.1 L643.8,435.8 L643.3,447.5" stroke-width="1.62"/>
<path d="M649.2,424.1 L649.4,443.6" stroke-width="1.62"/>
<path d="M644.3,424.1 L649.2,424.1" stroke-width="1.62"/>
<path d="M665.8,445.5 L683.4,439.7 L695.1,443.6 L677.5,451.4Z" stroke-width="1.69"/>
<path d="M663.8,447.5 L677.5,455.3 L697.0,445.5" stroke-width="1.62"/>
<path d="M643.3,447.5 L663.8,459.2 L675.5,463.1" stroke-width="1.62"/>
<path d="M675.5,462.1 C680.1,460.7 693.0,456.5 702.9,453.4 C712.8,450.3 729.7,445.2 735.0,443.6" stroke-width="1.62"/>
<path d="M679.5,466.5 C683.4,465.3 693.6,462.1 702.9,459.2 C712.2,456.4 729.7,451.1 735.0,449.5" stroke-width="1.62"/>
<path d="M683.4,463.1 C686.6,462.1 697.0,458.6 702.9,456.8 C708.8,455.0 715.9,453.1 718.5,452.4" stroke-width="1.62"/>
<path d="M645.3,461.2 L644.3,469.0 L658.0,477.8 L658.9,470.0" stroke-width="1.62"/>
<path d="M644.3,461.2 L658.9,470.0 L662.9,470.9" stroke-width="1.62"/>
<path d="M649.2,443.6 L650.2,451.4 L656.0,455.3" stroke-width="1.62"/>
<ellipse cx="657.2" cy="455.5" rx="1.95" ry="4.1" transform="rotate(25 657.2 455.5)" stroke-width="1.82"/>
<ellipse cx="676.7" cy="465.3" rx="1.95" ry="4.1" transform="rotate(25 676.7 465.3)" stroke-width="1.82"/>
<path d="M663.8,447.5 C663.7,448.8 662.9,451.6 662.9,455.3 C662.9,459.1 663.7,467.5 663.8,470.0" stroke-width="1.62"/>
<path d="M675.5,463.1 L674.6,472.9" stroke-width="1.62"/>
<ellipse cx="721.4" cy="457.5" rx="3.4" ry="3.4" transform="rotate(0 721.4 457.5)" fill="#fcef14" stroke-width="1.04"/>
<path d="M706.8,453.4 L714.6,459.2" stroke-width="1.62"/>
<path d="M669.7,410.4 C672.0,410.1 678.6,410.1 683.4,408.4 C688.1,406.8 693.9,403.2 698.0,400.6 C702.1,398.0 706.1,394.1 707.8,392.8" stroke-width="1.62"/>
<path d="M661.9,417.2 C664.2,418.0 670.3,422.1 675.5,422.1 C680.8,422.1 688.1,419.7 693.1,417.2 C698.2,414.8 702.6,410.9 705.8,407.5 C709.1,404.0 711.5,398.5 712.7,396.7" stroke-width="1.62"/>
<path d="M682.4,430.9 C683.4,429.8 688.9,428.6 691.2,428.0 C693.5,427.3 694.4,426.8 696.1,427.0 C697.7,427.2 699.8,428.0 700.9,428.9 C702.1,429.9 703.5,432.0 702.9,432.9 C702.2,433.7 698.7,433.3 697.0,433.8 C695.4,434.3 695.1,435.6 693.1,435.8 C691.2,435.9 687.1,435.6 685.3,434.8 C683.5,434.0 681.4,432.0 682.4,430.9Z" fill="#fcef14" stroke-width="1.3"/>
<path d="M702.9,432.9 C703.2,434.0 704.4,437.6 704.8,439.7 C705.3,441.8 705.7,444.6 705.8,445.5" stroke-width="1.62"/>
<path d="M712.7,397.7 L718.5,401.6 L722.4,392.8" stroke-width="1.82"/>
<path d="M705.8,428.0 C707.1,427.0 710.9,423.9 713.6,422.1 C716.4,420.3 718.9,419.8 722.4,417.2 C726.0,414.6 732.9,408.3 735.0,406.5" stroke-width="3.12"/>
<path d="M722.4,417.2 C723.4,417.7 727.0,418.4 728.3,420.2 C729.6,421.9 729.9,426.7 730.2,428.0" stroke-width="1.62"/>
<path d="M669.7,408.4 L673.6,409.4 L677.5,407.5" stroke-width="3.12"/>
<path d="M644.3,447.5 L646.2,445.5 L648.7,447.5" stroke-width="2.6"/>
</svg>
</body></html>
